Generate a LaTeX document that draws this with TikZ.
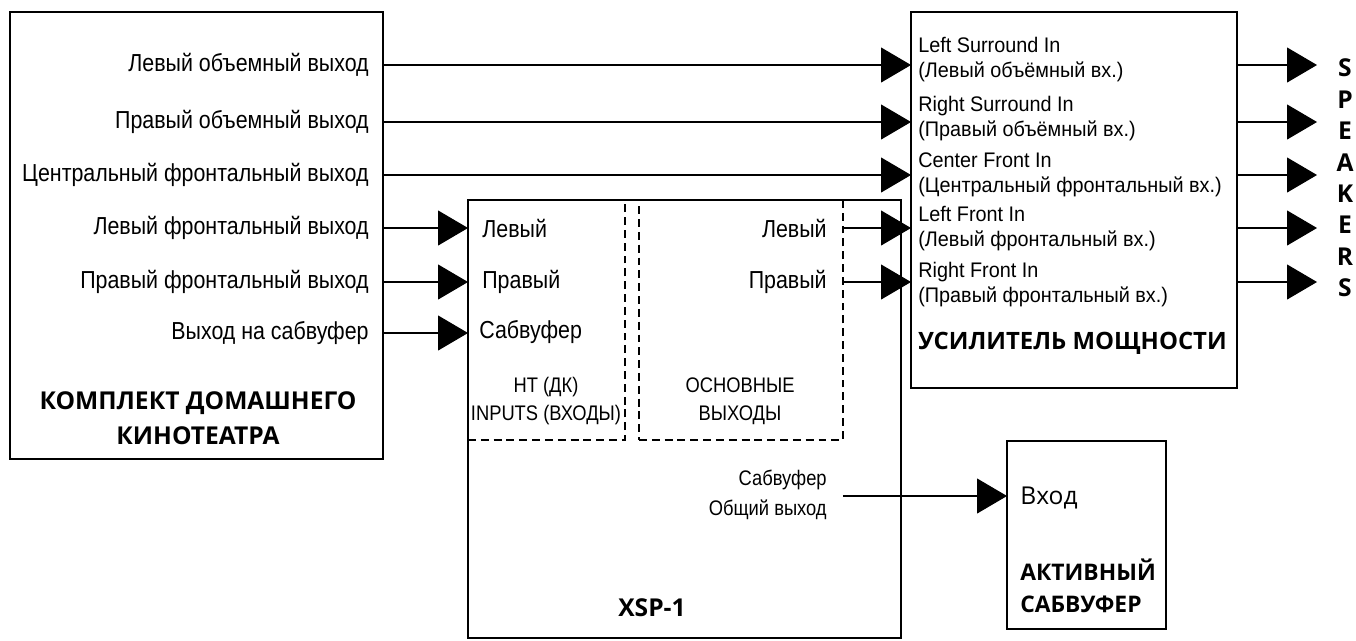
\documentclass[tikz,border=0pt]{standalone}
\usepackage{fontspec}
\setmainfont{Liberation Sans}
\newfontfamily\narrowfont{Liberation Sans}[FakeStretch=0.87]
\newfontfamily\portfont{Liberation Sans}[FakeStretch=0.94]
\newfontfamily\headfont{Open Sans}
\usetikzlibrary{arrows.meta, positioning}

\begin{document}
\begin{tikzpicture}[
    x=0.02cm, y=-0.02cm,
    box/.style={rectangle, draw, line width=0.7pt, inner sep=0pt, outer sep=0pt, anchor=north west},
    dashbox/.style={box, dash pattern=on 4.5pt off 2.8pt},
    lbl/.style={inner sep=0pt, font=\narrowfont\fontsize{14}{16}\selectfont},
    small/.style={inner sep=0pt, font=\narrowfont\fontsize{12}{16}\selectfont},
    port/.style={inner sep=0pt, anchor=west, align=left, font=\portfont\fontsize{12}{14.2}\selectfont},
    title/.style={inner sep=0pt, font=\headfont\bfseries\fontsize{14}{20}\selectfont},
    arrow/.style={-{Triangle[length=0.6cm, width=0.7cm]}, line width=0.6pt}
]
    \useasboundingbox (0,0) rectangle (1356,640);

    % Signal rows
    \coordinate (r1) at (0,65);
    \coordinate (r2) at (0,122);
    \coordinate (r3) at (0,175);
    \coordinate (r4) at (0,228);
    \coordinate (r5) at (0,282);
    \coordinate (r6) at (0,333);
    \coordinate (rsub) at (0,496);

    % Home theater
    \node[box, minimum width=7.46cm, minimum height=8.94cm] (ht) at (10,12) {};
    \node[lbl, anchor=east] (htls) at (369,65) {Левый объемный выход};
    \node[lbl, anchor=east] (htrs) at (369,122) {Правый объемный выход};
    \node[lbl, anchor=east] (htcf) at (369,175) {Центральный фронтальный выход};
    \node[lbl, anchor=east] (htlf) at (369,228) {Левый фронтальный выход};
    \node[lbl, anchor=east] (htrf) at (369,282) {Правый фронтальный выход};
    \node[lbl, anchor=east] (htsw) at (369,333) {Выход на сабвуфер};
    \node[title, align=center] (httitle) at (198,418) {КОМПЛЕКТ ДОМАШНЕГО\\КИНОТЕАТРА};

    % XSP-1
    \node[box, minimum width=8.66cm, minimum height=8.76cm] (xsp) at (468,200) {};
    \node[dashbox, minimum width=3.14cm, minimum height=4.8cm] (htin) at (468,200) {};
    \node[dashbox, minimum width=4.08cm, minimum height=4.8cm] (mainout) at (639,200) {};
    \node[lbl, anchor=west] (inl) at (482,228) {Левый};
    \node[lbl, anchor=west] (inr) at (482,282) {Правый};
    \node[lbl, anchor=west] (insw) at (479,332) {Сабвуфер};
    \node[small, align=center] (intitle) at (546,401) {НТ (ДК)\\INPUTS (ВХОДЫ)};
    \node[lbl, anchor=east] (outl) at (827,228) {Левый};
    \node[lbl, anchor=east] (outr) at (827,282) {Правый};
    \node[small, align=center] (outtitle) at (740,401) {ОСНОВНЫЕ\\ВЫХОДЫ};
    \node[small, align=right, anchor=east, font=\narrowfont\fontsize{12}{17}\selectfont] (outsw) at (827,495) {Сабвуфер\\Общий выход};
    \node[title] (xsptitle) at (652,608) {XSP-1};

    % Power amp
    \node[box, minimum width=6.52cm, minimum height=7.52cm] (amp) at (911,12) {};
    \node[port] (ampls) at (918,59.5) {Left Surround In\\(Левый объёмный вх.)};
    \node[port] (amprs) at (918,118.5) {Right Surround In\\(Правый объёмный вх.)};
    \node[port] (ampcf) at (918,174.5) {Center Front In\\(Центральный фронтальный вх.)};
    \node[port] (amplf) at (918,228.5) {Left Front In\\(Левый фронтальный вх.)};
    \node[port] (amprf) at (918,285) {Right Front In\\(Правый фронтальный вх.)};
    \node[title, anchor=west, font=\headfont\bfseries\fontsize{13.6}{20}\selectfont] (amptitle) at (918,343) {УСИЛИТЕЛЬ МОЩНОСТИ};

    % Speakers
    \coordinate (spk) at (1317,0);
    \node[title, align=center, font=\headfont\bfseries\fontsize{14}{17.9}\selectfont] (speakers) at (1345,178) {S\\P\\E\\A\\K\\E\\R\\S};

    % Active subwoofer
    \node[box, minimum width=3.18cm, minimum height=3.76cm] (sw) at (1007,441) {};
    \node[inner sep=0pt, anchor=west, font=\headfont\fontsize{14}{18}\selectfont] (swin) at (1020,498) {Вход};
    \node[title, anchor=west, align=left, font=\headfont\bfseries\fontsize{13}{18}\selectfont] (swtitle) at (1020,586) {АКТИВНЫЙ\\САБВУФЕР};

    % Surround and center straight to the amp
    \draw[arrow] (ht.east |- r1) -- (amp.west |- r1);
    \draw[arrow] (ht.east |- r2) -- (amp.west |- r2);
    \draw[arrow] (ht.east |- r3) -- (amp.west |- r3);

    % Front and sub into XSP-1
    \draw[arrow] (ht.east |- r4) -- (xsp.west |- r4);
    \draw[arrow] (ht.east |- r5) -- (xsp.west |- r5);
    \draw[arrow] (ht.east |- r6) -- (xsp.west |- r6);

    % XSP-1 outputs
    \draw[arrow] (mainout.east |- r4) -- (amp.west |- r4);
    \draw[arrow] (mainout.east |- r5) -- (amp.west |- r5);
    \draw[arrow] (mainout.east |- rsub) -- (sw.west |- rsub);

    % Amp to speakers
    \draw[arrow] (amp.east |- r1) -- (spk |- r1);
    \draw[arrow] (amp.east |- r2) -- (spk |- r2);
    \draw[arrow] (amp.east |- r3) -- (spk |- r3);
    \draw[arrow] (amp.east |- r4) -- (spk |- r4);
    \draw[arrow] (amp.east |- r5) -- (spk |- r5);
\end{tikzpicture}
\end{document}
